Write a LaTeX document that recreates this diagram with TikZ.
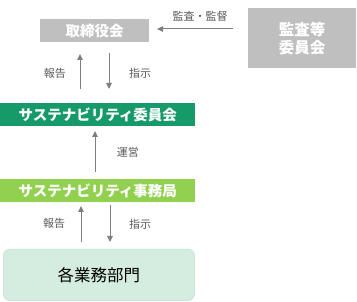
\documentclass[tikz,border=0pt]{standalone}
\usepackage{fontspec}
\setmainfont{Noto Sans CJK JP}
\usetikzlibrary{arrows.meta}
\definecolor{boxgray}{HTML}{BFBFBF}
\definecolor{dkgreen}{HTML}{169A6A}
\definecolor{ltgreen}{HTML}{92D050}
\definecolor{paleg}{HTML}{D5ECE0}
\definecolor{paleline}{HTML}{C9E6D6}
\definecolor{arrgray}{HTML}{7F7F7F}
\definecolor{labgray}{HTML}{595959}
\begin{document}
\begin{tikzpicture}[x=1pt,y=-1pt,
  box/.style={draw=none,inner sep=0pt,anchor=north west,text=white,font=\fontsize{14.5}{16}\selectfont\bfseries},
  conn/.style={draw=arrgray,line width=1pt,-{Triangle[length=6pt,width=5.5pt]}},
  lab/.style={text=labgray,font=\fontsize{11}{12}\selectfont}]
\useasboundingbox (0,0) rectangle (357,302);
\node[box,fill=boxgray,minimum width=109pt,minimum height=23pt] (board) at (40,19) {取締役会};
\node[box,fill=boxgray,minimum width=108pt,minimum height=60pt,align=center,font=\fontsize{15.5}{18}\selectfont\bfseries] (audit) at (248,8) {監査等\\委員会};
\node[box,fill=dkgreen,minimum width=195pt,minimum height=23pt] (comm) at (0,103) {サステナビリティ委員会};
\node[box,fill=ltgreen,minimum width=195pt,minimum height=23pt] (office) at (0,179) {サステナビリティ事務局};
\node[box,fill=paleg,draw=paleline,line width=0.8pt,rounded corners=6pt,minimum width=191pt,minimum height=51pt,text=black,font=\fontsize{16.5}{18}\selectfont] (dept) at (3,249) {各業務部門};
% connectors
\coordinate (a1) at (233,29);
\coordinate (a2) at (157,29);
\draw[conn] (a1) -- (a2);
\node[lab] (l0) at (200,16) {監査・監督};
\coordinate (b1) at (80,89);
\coordinate (b2) at (80,54);
\draw[conn] (b1) -- (b2);
\coordinate (c1) at (109,53);
\coordinate (c2) at (109,89);
\draw[conn] (c1) -- (c2);
\node[lab] (l1) at (55,73) {報告};
\node[lab] (l2) at (140,73) {指示};
\coordinate (d1) at (95,172);
\coordinate (d2) at (95,131);
\draw[conn] (d1) -- (d2);
\node[lab] (l3) at (128,152) {運営};
\coordinate (e1) at (81,242);
\coordinate (e2) at (81,206);
\draw[conn] (e1) -- (e2);
\coordinate (f1) at (110,205);
\coordinate (f2) at (110,242);
\draw[conn] (f1) -- (f2);
\node[lab] (l4) at (54,223) {報告};
\node[lab] (l5) at (140,224) {指示};
\end{tikzpicture}
\end{document}
